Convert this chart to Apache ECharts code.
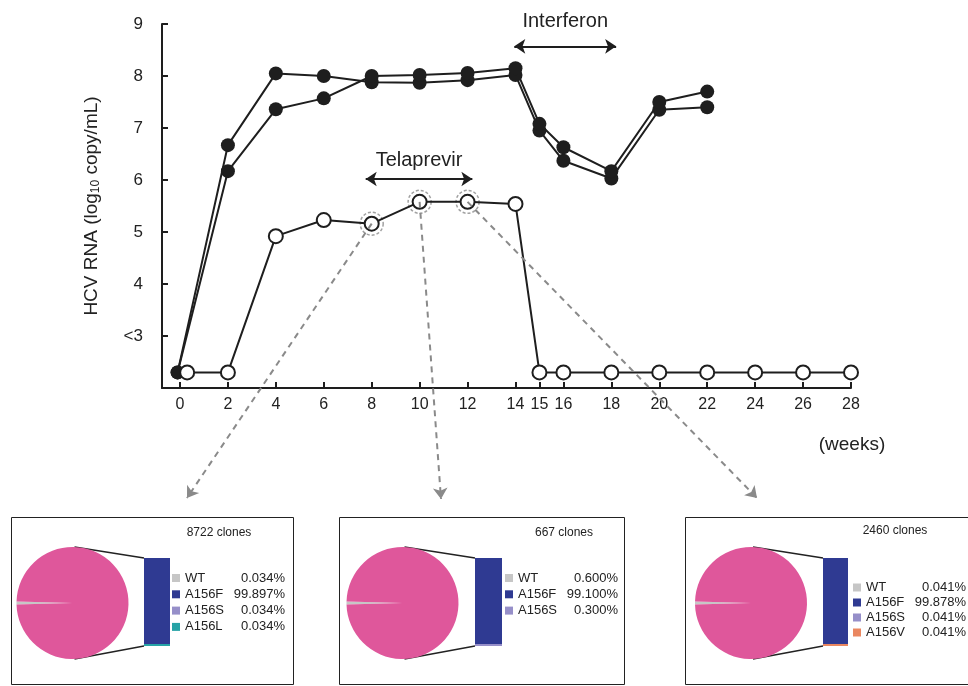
<!DOCTYPE html>
<html><head><meta charset="utf-8">
<script src="https://cdn.jsdelivr.net/npm/echarts@6/dist/echarts.min.js"></script>
<style>html,body{margin:0;padding:0;background:#fff}#c{width:968px;height:686px}</style>
</head><body><div id="c"></div>
<script>
// ---------- data ----------
const weeksClosedA = [-0.1, 2, 4, 6, 8, 10, 12, 14, 15, 16, 18, 20, 22];
const rnaClosedA   = [2.3, 6.67, 8.05, 8.0, 7.88, 7.87, 7.92, 8.02, 6.95, 6.37, 6.03, 7.35, 7.4];
const weeksClosedB = [-0.1, 2, 4, 6, 8, 10, 12, 14, 15, 16, 18, 20, 22];
const rnaClosedB   = [2.3, 6.17, 7.36, 7.57, 8.0, 8.02, 8.06, 8.15, 7.08, 6.63, 6.17, 7.5, 7.7];
const weeksOpen    = [0.3, 2, 4, 6, 8, 10, 12, 14, 15, 16, 18, 20, 22, 24, 26, 28];
const rnaOpen      = [2.3, 2.3, 4.92, 5.23, 5.16, 5.58, 5.58, 5.54, 2.3, 2.3, 2.3, 2.3, 2.3, 2.3, 2.3, 2.3];
const xTickWeeks   = [0, 2, 4, 6, 8, 10, 12, 14, 15, 16, 18, 20, 22, 24, 26, 28];
const yTickValues  = [3, 4, 5, 6, 7, 8, 9];
const yTickLabels  = ['<3', '4', '5', '6', '7', '8', '9'];
const sampledWeeks = [8, 10, 12];
const therapyNames = ['Telaprevir', 'Interferon'];
const therapyStart = [7.75, 13.95];
const therapyEnd   = [12.2, 18.2];
const therapyLevel = [6.02, 8.57];

const panelTitles = ['8722 clones', '667 clones', '2460 clones'];
const panelNames  = [['WT', 'A156F', 'A156S', 'A156L'], ['WT', 'A156F', 'A156S'], ['WT', 'A156F', 'A156S', 'A156V']];
const panelPct    = [[0.034, 99.897, 0.034, 0.034], [0.600, 99.100, 0.300], [0.041, 99.878, 0.041, 0.041]];

// ---------- styles / layout ----------
const FONT = 'Liberation Sans, Arial, Helvetica, sans-serif';
const INK = '#1e1e1e';
const variantColor = { WT: '#c6c6c6', A156F: '#2f3a92', A156S: '#968fc9', A156L: '#27a3a6', A156V: '#ea8760' };
const pieMainColor = '#df579b';

// legend: [left, top, itemGap, rowLineHeight]
const panels = [
  { box: [11, 517, 282, 167], pie: [72.5, 603, 56], bar: [144, 558, 26, 88], legend: [172, 570, 0.3, 16], title: [219, 533], tip: [187, 498] },
  { box: [339, 517, 285, 167], pie: [402.5, 603, 56], bar: [475, 558, 27, 88], legend: [505, 570, 0.3, 16], title: [564, 533], tip: [441, 499] },
  { box: [685, 517, 300, 167], pie: [751, 603, 56], bar: [823, 558, 25, 88], legend: [853, 580, 0, 15], title: [895, 531], tip: [757, 498] }
];

const zip = (xs, ys) => xs.map((x, i) => [x, ys[i]]);
const openAt = w => rnaOpen[weeksOpen.indexOf(w)];

const grids = [{ left: 162, right: 117, top: 24, bottom: 298 }];
const xAxes = [{
  type: 'value', min: -0.75, max: 28, gridIndex: 0,
  axisLine: { onZero: false, lineStyle: { color: INK, width: 2 } },
  axisTick: { inside: true, length: 6, lineStyle: { color: INK, width: 2 }, customValues: xTickWeeks },
  axisLabel: { customValues: xTickWeeks, fontSize: 16, color: '#222', fontFamily: FONT, margin: 9 },
  splitLine: { show: false }
}];
const yAxes = [{
  type: 'value', min: 2, max: 9, gridIndex: 0,
  name: 'HCV RNA (log{sub|10} copy/mL)', nameLocation: 'middle', nameGap: 60,
  nameTextStyle: { fontSize: 19, color: '#222', fontFamily: FONT,
    rich: { sub: { fontSize: 12, fontFamily: FONT, color: '#222', padding: [9, 0, 0, 0] } } },
  axisLine: { show: true, onZero: false, lineStyle: { color: INK, width: 2 } },
  axisTick: { inside: true, length: 6, lineStyle: { color: INK, width: 2 }, customValues: yTickValues },
  axisLabel: { customValues: yTickValues, fontSize: 17, color: '#222', fontFamily: FONT, margin: 19,
    formatter: v => yTickLabels[yTickValues.indexOf(v)] },
  splitLine: { show: false }
}];

const lineCommon = {
  type: 'line', xAxisIndex: 0, yAxisIndex: 0, symbol: 'circle', symbolSize: 14,
  lineStyle: { color: INK, width: 2 }, silent: true, animation: false
};

const series = [];
series.push({
  type: 'scatter', xAxisIndex: 0, yAxisIndex: 0, symbolSize: 23, silent: true, animation: false, z: 2,
  data: sampledWeeks.map(w => [w, openAt(w)]),
  itemStyle: { color: 'rgba(0,0,0,0)', borderColor: '#8a8a8a', borderWidth: 1.5, borderType: [3, 2] },
  markLine: {
    silent: true, animation: false, symbol: ['none', 'arrow'], symbolSize: 11,
    lineStyle: { type: [6, 5], color: '#8a8a8a', width: 2 }, label: { show: false },
    data: sampledWeeks.map((w, i) => [{ coord: [w, openAt(w)] }, { x: panels[i].tip[0], y: panels[i].tip[1] }])
  }
});
series.push(Object.assign({}, lineCommon, {
  name: 'closedA', data: zip(weeksClosedA, rnaClosedA), itemStyle: { color: INK },
  markLine: {
    silent: true, animation: false, symbol: ['arrow', 'arrow'], symbolSize: 11,
    lineStyle: { type: 'solid', color: INK, width: 2 },
    label: { show: true, formatter: '{b}', position: 'insideMiddleTop', fontSize: 20, color: '#222', fontFamily: FONT },
    data: therapyNames.map((n, i) => [
      { name: n, coord: [therapyStart[i], therapyLevel[i]], label: { distance: i === 0 ? 8 : 15 } },
      { coord: [therapyEnd[i], therapyLevel[i]] }])
  }
}));
series.push(Object.assign({}, lineCommon, { name: 'closedB', data: zip(weeksClosedB, rnaClosedB), itemStyle: { color: INK } }));
series.push(Object.assign({}, lineCommon, {
  name: 'open', data: zip(weeksOpen, rnaOpen), z: 3,
  itemStyle: { color: '#fff', borderColor: INK, borderWidth: 2 }
}));

const legends = [];
const graphics = [];

panels.forEach((p, pi) => {
  const names = panelNames[pi], pct = panelPct[pi];
  const wt = pct[0];
  const mutSum = pct.slice(1).reduce((a, b) => a + b, 0);
  graphics.push({ type: 'rect', shape: { x: p.box[0] + 0.5, y: p.box[1] + 0.5, width: p.box[2], height: p.box[3] },
    style: { fill: 'none', stroke: '#222', lineWidth: 1 }, z: 0, silent: true });
  graphics.push({ type: 'text', x: p.title[0], y: p.title[1], silent: true,
    style: { text: panelTitles[pi], fontSize: 12, fill: '#222', fontFamily: FONT, textAlign: 'center', textVerticalAlign: 'middle' } });
  const [cx, cy, r] = p.pie, [bx, by, bw, bh] = p.bar;
  graphics.push({ type: 'line', silent: true, shape: { x1: cx + 2, y1: cy - r, x2: bx, y2: by }, style: { stroke: '#222', lineWidth: 1.5 } });
  graphics.push({ type: 'line', silent: true, shape: { x1: cx + 2, y1: cy + r, x2: bx, y2: by + bh }, style: { stroke: '#222', lineWidth: 1.5 } });
  series.push({
    type: 'pie', center: [cx, cy], radius: r, startAngle: 181.5, minAngle: 3, clockwise: true,
    silent: true, animation: false, label: { show: false }, labelLine: { show: false },
    itemStyle: { borderWidth: 0 },
    data: [
      { name: 'WT', value: wt, itemStyle: { color: variantColor.WT } },
      { name: 'A156 variants', value: mutSum, itemStyle: { color: pieMainColor } }
    ]
  });
  const gi = grids.length;
  grids.push({ left: bx, top: by, width: bw, height: bh });
  xAxes.push({ type: 'category', gridIndex: gi, data: [''], show: false });
  yAxes.push({ type: 'value', gridIndex: gi, min: 0, max: mutSum, show: false });
  for (let k = names.length - 1; k >= 1; k--) {
    series.push({
      type: 'bar', name: names[k], xAxisIndex: gi, yAxisIndex: gi, stack: 'p' + pi,
      barWidth: '100%', barMinHeight: k === 1 ? 0 : 2, z: 1 + k,
      silent: true, animation: false, data: [pct[k]], itemStyle: { color: variantColor[names[k]] }
    });
  }
  const lh = p.legend[3];
  legends.push({
    orient: 'vertical', left: p.legend[0], top: p.legend[1], itemGap: p.legend[2], padding: 0,
    itemWidth: 8, itemHeight: 8, icon: 'rect', selectedMode: false, data: names,
    textStyle: { fontSize: 13, lineHeight: lh, color: '#222', fontFamily: FONT,
      rich: { n: { width: 48, fontSize: 13, lineHeight: lh, height: lh, fontFamily: FONT, color: '#222' },
              v: { width: 52, align: 'right', fontSize: 13, lineHeight: lh, height: lh, fontFamily: FONT, color: '#222' } } },
    formatter: name => `{n|${name}}{v|${pct[names.indexOf(name)].toFixed(3)}%}`
  });
});

graphics.push({ type: 'text', x: 852, y: 445, silent: true,
  style: { text: '(weeks)', fontSize: 19, fill: '#222', fontFamily: FONT, textAlign: 'center', textVerticalAlign: 'middle' } });

const chart = echarts.init(document.getElementById('c'), null, { renderer: 'canvas' });
chart.setOption({
  backgroundColor: '#fff', animation: false,
  grid: grids, xAxis: xAxes, yAxis: yAxes, series: series, legend: legends, graphic: graphics
});
</script>
</body></html>
